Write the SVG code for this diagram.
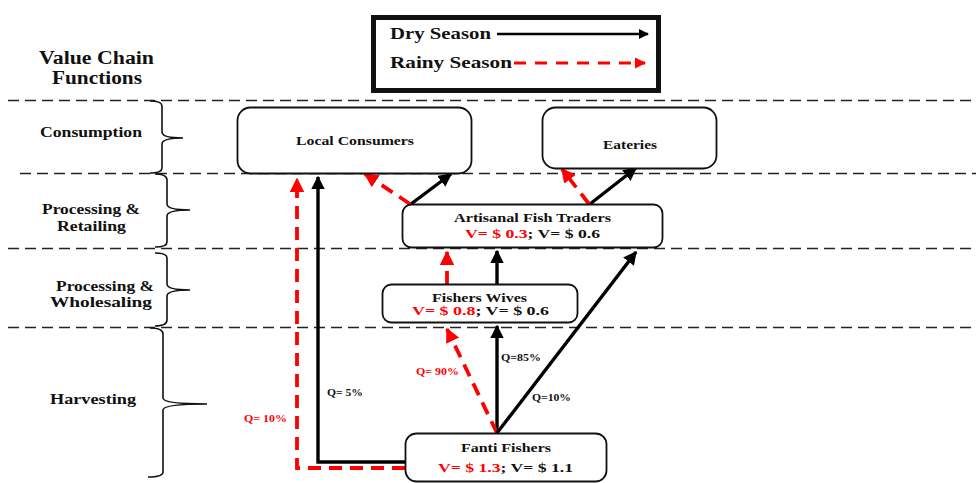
<svg xmlns="http://www.w3.org/2000/svg" width="978" height="483" viewBox="0 0 978 483">
  <style>
    text { font-family: "Liberation Serif", "Times New Roman", serif; font-weight: bold; fill: #111; }
    .sep { stroke: #222; stroke-width: 1.4; stroke-dasharray: 11 6; fill: none; }
    .brace { stroke: #111; stroke-width: 1.6; fill: none; }
    .box { fill: #fff; stroke: #111; stroke-width: 1.8; }
    .dry { stroke: #000; stroke-width: 3.4; fill: none; }
    .rainy { stroke: #f00; stroke-width: 3.8; fill: none; stroke-dasharray: 13 8; }
    .red { fill: #f00; }
    .lbl { font-size: 14px; }
    .node { font-size: 12.5px; }
    .q { font-size: 10px; }
  </style>
  <defs>
    <marker id="ah-dry" viewBox="0 0 10 10" refX="9" refY="5" markerWidth="4" markerHeight="4" orient="auto" markerUnits="strokeWidth">
      <path d="M0,0 L10,5 L0,10 Z" fill="#000"/>
    </marker>
    <marker id="ah-rainy" viewBox="0 0 10 10" refX="9" refY="5" markerWidth="3.8" markerHeight="3.8" orient="auto" markerUnits="strokeWidth">
      <path d="M0,0 L10,5 L0,10 Z" fill="#f00"/>
    </marker>
  </defs>

  <rect width="978" height="483" fill="#fff"/>

  <!-- legend -->
  <g id="legend">
    <rect x="373.5" y="17.5" width="285" height="73" fill="#fff" stroke="#111" stroke-width="5"/>
    <text x="390" y="39" font-size="16.5" textLength="101" lengthAdjust="spacingAndGlyphs">Dry Season</text>
    <line x1="497" y1="34" x2="648" y2="34" stroke="#000" stroke-width="2.6" marker-end="url(#ah-dry)"/>
    <text x="390" y="68" font-size="16.5" textLength="122" lengthAdjust="spacingAndGlyphs">Rainy Season</text>
    <line x1="514" y1="63" x2="645" y2="63" stroke="#f00" stroke-width="3" stroke-dasharray="12 9" marker-end="url(#ah-rainy)"/>
  </g>

  <!-- function bands -->
  <g id="bands">
    <text x="39" y="64" font-size="18" textLength="115" lengthAdjust="spacingAndGlyphs">Value Chain</text>
    <text x="52" y="84" font-size="18" textLength="90" lengthAdjust="spacingAndGlyphs">Functions</text>
    <line class="sep" x1="8" y1="100.5" x2="976" y2="100.5"/>
    <line class="sep" x1="20" y1="173.5" x2="976" y2="173.5"/>
    <line class="sep" x1="8" y1="248.5" x2="976" y2="248.5"/>
    <line class="sep" x1="8" y1="327.5" x2="976" y2="327.5"/>

    <text class="lbl" x="40" y="137" textLength="102" lengthAdjust="spacingAndGlyphs">Consumption</text>
    <text class="lbl" x="42" y="214" textLength="98" lengthAdjust="spacingAndGlyphs">Processing &amp;</text>
    <text class="lbl" x="57" y="231" textLength="69" lengthAdjust="spacingAndGlyphs">Retailing</text>
    <text class="lbl" x="56" y="291" textLength="98" lengthAdjust="spacingAndGlyphs">Processing &amp;</text>
    <text class="lbl" x="50" y="307" textLength="102" lengthAdjust="spacingAndGlyphs">Wholesaling</text>
    <text class="lbl" x="50" y="404" textLength="86" lengthAdjust="spacingAndGlyphs">Harvesting</text>

    <path class="brace" d="M150,101 Q162,101 162,106 L162,132 Q162,138 183,138 Q162,138 162,144 L162,168 Q162,173 150,173"/>
    <path class="brace" d="M155,174 Q167,174 167,180 L167,204 Q167,210 190,210 Q167,210 167,216 L167,242 Q167,247 155,247"/>
    <path class="brace" d="M155,253 Q167,253 167,258 L167,284 Q167,290 190,290 Q167,290 167,296 L167,320 Q167,326 155,326"/>
    <path class="brace" d="M150,328 Q163,328 163,334 L163,398 Q163,404 207,404 Q163,404 163,410 L163,472 Q163,477 148,477"/>
  </g>

  <!-- connectors -->
  <g id="connectors">
    <!-- Fanti Fishers to Local Consumers -->
    <polyline class="dry" points="405,462 318,462 318,177" marker-end="url(#ah-dry)"/>
    <polyline class="rainy" points="405,468 297,468 297,179" marker-end="url(#ah-rainy)"/>
    <!-- Fanti Fishers to Fishers Wives -->
    <line class="dry" x1="497" y1="433" x2="497" y2="326" marker-end="url(#ah-dry)"/>
    <line class="rainy" x1="497" y1="433" x2="447" y2="329" marker-end="url(#ah-rainy)"/>
    <!-- Fanti Fishers to Artisanal Fish Traders -->
    <line class="dry" x1="497" y1="433" x2="636" y2="252" marker-end="url(#ah-dry)"/>
    <!-- Fishers Wives to Artisanal Fish Traders -->
    <line class="dry" x1="497" y1="284" x2="497" y2="251" marker-end="url(#ah-dry)"/>
    <line class="rainy" x1="447" y1="284" x2="447" y2="252" marker-end="url(#ah-rainy)"/>
    <!-- Artisanal Fish Traders to Local Consumers -->
    <line class="dry" x1="411" y1="204" x2="451" y2="174" marker-end="url(#ah-dry)"/>
    <line class="rainy" x1="410" y1="204" x2="365" y2="174" marker-end="url(#ah-rainy)"/>
    <!-- Artisanal Fish Traders to Eateries -->
    <line class="dry" x1="590" y1="204" x2="636" y2="168" marker-end="url(#ah-dry)"/>
    <line class="rainy" x1="589" y1="204" x2="562" y2="169" marker-end="url(#ah-rainy)"/>

    <text class="q" x="327" y="396" textLength="36" lengthAdjust="spacingAndGlyphs">Q= 5%</text>
    <text class="q red" x="244" y="422" textLength="43" lengthAdjust="spacingAndGlyphs">Q= 10%</text>
    <text class="q red" x="416" y="375" textLength="43" lengthAdjust="spacingAndGlyphs">Q= 90%</text>
    <text class="q" x="501" y="361" textLength="40" lengthAdjust="spacingAndGlyphs">Q=85%</text>
    <text class="q" x="532" y="401" textLength="39" lengthAdjust="spacingAndGlyphs">Q=10%</text>
  </g>

  <!-- nodes -->
  <g id="local-consumers">
    <rect class="box" x="237.5" y="107.5" width="234" height="66" rx="13"/>
    <text class="node" x="296" y="145" textLength="118" lengthAdjust="spacingAndGlyphs">Local Consumers</text>
  </g>
  <g id="eateries">
    <rect class="box" x="542.5" y="107.5" width="174" height="61" rx="13"/>
    <text class="node" x="603" y="149" textLength="54" lengthAdjust="spacingAndGlyphs">Eateries</text>
  </g>
  <g id="artisanal-fish-traders">
    <rect class="box" x="402.5" y="204.5" width="260" height="43" rx="9"/>
    <text class="node" x="454" y="222" textLength="157" lengthAdjust="spacingAndGlyphs">Artisanal Fish Traders</text>
    <text class="node" x="465" y="238" textLength="135" lengthAdjust="spacingAndGlyphs"><tspan fill="#f00">V= $ 0.3</tspan>; V= $ 0.6</text>
  </g>
  <g id="fishers-wives">
    <rect class="box" x="382.5" y="284.5" width="195" height="38" rx="9"/>
    <text class="node" x="432" y="302" textLength="95" lengthAdjust="spacingAndGlyphs">Fishers Wives</text>
    <text class="node" x="412" y="315" textLength="137" lengthAdjust="spacingAndGlyphs"><tspan fill="#f00">V= $ 0.8</tspan>; V= $ 0.6</text>
  </g>
  <g id="fanti-fishers">
    <rect class="box" x="405.5" y="433.5" width="201" height="48" rx="11"/>
    <text class="node" x="461" y="452" textLength="90" lengthAdjust="spacingAndGlyphs">Fanti Fishers</text>
    <text class="node" x="438" y="472" font-size="13.5" textLength="135" lengthAdjust="spacingAndGlyphs"><tspan fill="#f00">V= $ 1.3</tspan>; V= $ 1.1</text>
  </g>
</svg>
